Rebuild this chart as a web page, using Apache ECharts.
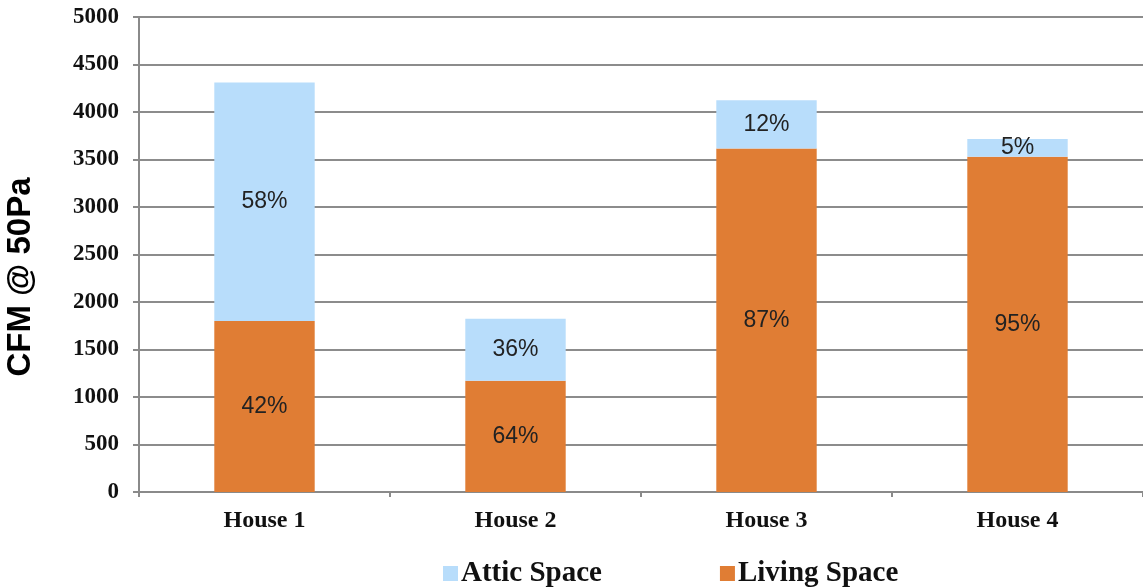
<!DOCTYPE html>
<html>
<head>
<meta charset="utf-8">
<script src="https://cdn.jsdelivr.net/npm/echarts@6/dist/echarts.min.js"></script>
<style>
  html, body { margin: 0; padding: 0; background: #fff; }
  #chart { width: 1143px; height: 588px; }
</style>
</head>
<body>
<div id="chart"></div>
<script>
// Air leakage (CFM @ 50Pa) split between living space and attic space
const houses = ['House 1', 'House 2', 'House 3', 'House 4'];
const livingSpace = [1800, 1170, 3615, 3530];
const atticSpace = [2510, 655, 510, 185];
const livingShare = ['42%', '64%', '87%', '95%'];
const atticShare = ['58%', '36%', '12%', '5%'];
const yTicks = [0, 500, 1000, 1500, 2000, 2500, 3000, 3500, 4000, 4500, 5000];
const yTitle = 'CFM @ 50Pa';

const serif = '"Liberation Serif", "DejaVu Serif", serif';
const sans = '"Liberation Sans", Arial, sans-serif';

const chart = echarts.init(document.getElementById('chart'));

const shareLabel = (shares) => ({
  show: true,
  position: 'inside',
  fontFamily: sans,
  fontSize: 23,
  color: '#222',
  formatter: (p) => shares[p.dataIndex]
});

chart.setOption({
  animation: false,
  grid: { left: 139, right: 0, top: 17, bottom: 96, outerBoundsMode: 'none' },
  graphic: [{
    type: 'text',
    x: 21,
    y: 277,
    rotation: Math.PI / 2,
    style: {
      text: yTitle,
      fontFamily: sans,
      fontWeight: 'bold',
      fontSize: 33,
      fill: '#000',
      align: 'center',
      verticalAlign: 'middle'
    }
  }],
  legend: {
    top: 554,
    left: 438,
    data: ['Attic Space', 'Living Space'],
    icon: 'rect',
    itemWidth: 15,
    itemHeight: 15,
    itemGap: 118,
    textStyle: { fontFamily: serif, fontWeight: 'bold', fontSize: 29, color: '#111', padding: [0, 0, 0, -2] }
  },
  xAxis: {
    type: 'category',
    data: houses,
    axisLine: { lineStyle: { color: '#8a8a8a', width: 2 } },
    axisTick: { show: true, length: 5, lineStyle: { color: '#8a8a8a', width: 2 } },
    axisLabel: { margin: 17, fontFamily: serif, fontWeight: 'bold', fontSize: 24, color: '#111' }
  },
  yAxis: {
    type: 'value',
    min: yTicks[0],
    max: yTicks[yTicks.length - 1],
    interval: yTicks[1] - yTicks[0],
    axisLine: { show: true, lineStyle: { color: '#8a8a8a', width: 2 } },
    axisTick: { show: true, length: 6, lineStyle: { color: '#8a8a8a', width: 2 } },
    axisLabel: {
      margin: 20,
      fontFamily: serif,
      fontWeight: 'bold',
      fontSize: 23,
      color: '#111',
      formatter: (v) => String(v)
    },
    splitLine: { lineStyle: { color: '#8c8c8c', width: 2 } }
  },
  series: [
    {
      name: 'Living Space',
      type: 'bar',
      stack: 'total',
      barWidth: '40%',
      data: livingSpace,
      itemStyle: { color: '#E07D34' },
      label: shareLabel(livingShare)
    },
    {
      name: 'Attic Space',
      type: 'bar',
      stack: 'total',
      barWidth: '40%',
      data: atticSpace,
      itemStyle: { color: '#B8DDFB' },
      label: shareLabel(atticShare)
    }
  ]
});
</script>
</body>
</html>
